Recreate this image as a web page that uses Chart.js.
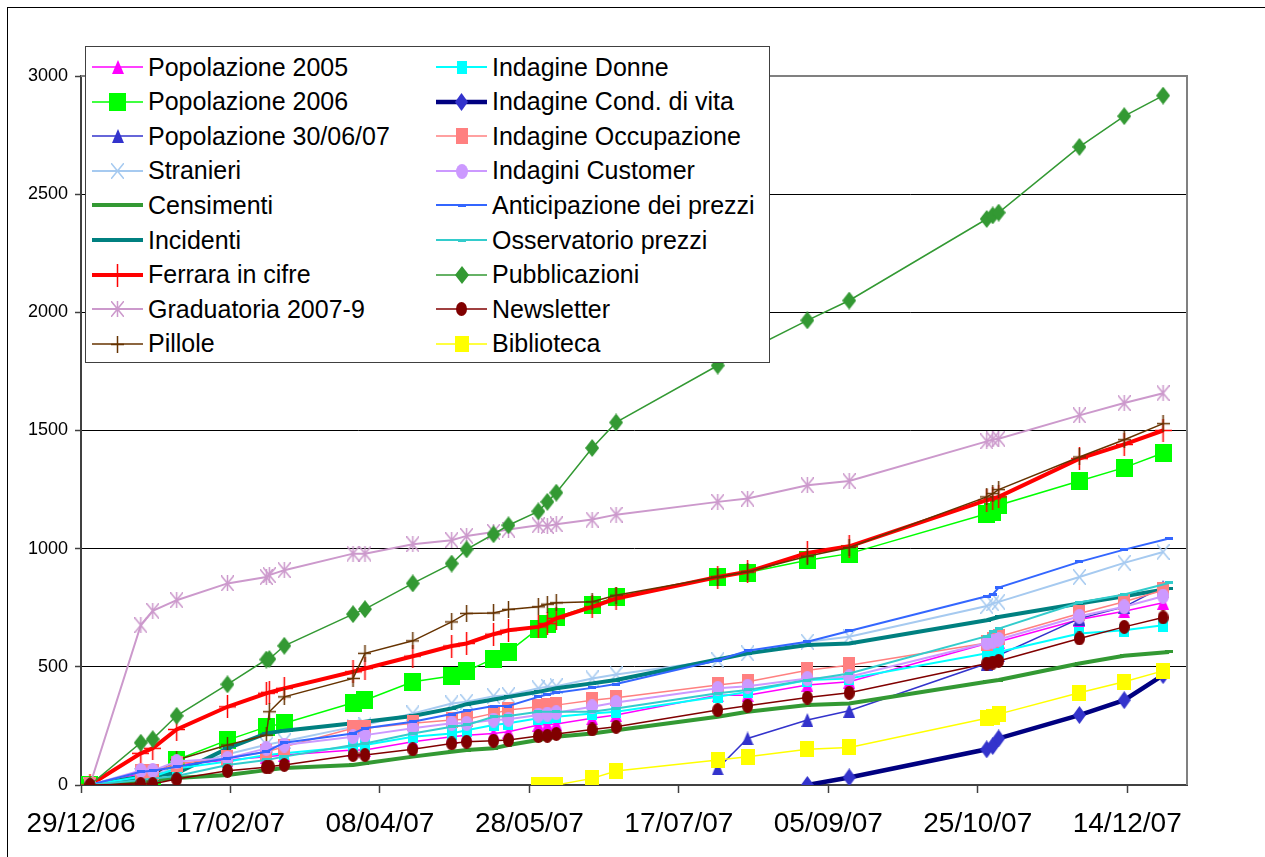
<!DOCTYPE html>
<html>
<head>
<meta charset="utf-8">
<script src="https://cdn.jsdelivr.net/npm/chart.js@4.4.1/dist/chart.umd.min.js"></script>
<style>
html, body { margin: 0; padding: 0; background: #fff; }
#wrap { position: relative; width: 1265px; height: 857px; overflow: hidden; font-family: "Liberation Sans", Arial, sans-serif; }
#frame { position: absolute; left: 7px; top: 7px; width: 1300px; height: 900px; border-top: 1.5px solid #000; border-left: 1.5px solid #000; }
#chart { position: absolute; left: 0; top: 0; }
#legend { position: absolute; left: 85px; top: 46px; width: 683px; height: 315px; border: 1.5px solid #404040; background: #fff; }
.item { position: absolute; height: 34px; display: flex; align-items: center; font-size: 25px; color: #000; white-space: nowrap; }
.item canvas { display: block; }
.item span { position: absolute; }
</style>
</head>
<body>
<div id="wrap">
  <div id="frame"></div>
  <canvas id="chart" width="1265" height="857"></canvas>
  <div id="legend"></div>
</div>
<script>
const N = null;

// recording dates (dd/mm/yy)
const dates = ['01/01/07','18/01/07','22/01/07','30/01/07','16/02/07','01/03/07','02/03/07','07/03/07',
  '30/03/07','03/04/07','19/04/07','02/05/07','07/05/07','16/05/07','21/05/07','31/05/07','03/06/07',
  '06/06/07','18/06/07','26/06/07','30/07/07','09/08/07','29/08/07','12/09/07','28/10/07','30/10/07',
  '01/11/07','28/11/07','13/12/07','26/12/07','28/12/07'];

const popolazione2005 = [0,49,49,85,106,120,N,127,148,148,183,204,211,218,225,254,256,258,282,296,380,380,423,437,599,603,606,700,735,771,N];
const popolazione2006 = [0,0,0,106,190,246,N,261,348,359,437,461,482,535,563,662,681,709,761,796,880,899,951,979,1148,1155,1184,1286,1343,1405,N];
const popolazione300607 = Array(20).fill(N).concat([70,197,275,314,514,535,549,704,754,838,N]);
const stranieri = [0,40,48,70,130,170,N,185,246,254,303,345,352,376,380,409,416,418,451,468,528,557,606,627,757,768,775,880,940,986,N];
const censimenti = [0,14,N,30,42,63,N,72,85,92,120,141,148,155,169,190,N,204,218,232,289,310,338,345,437,N,444,514,547,N,563];
const incidenti = [0,35,N,50,155,218,N,230,261,268,292,324,342,362,373,394,N,409,430,444,531,557,592,599,697,N,711,768,799,N,831];
const ferrara = [0,134,155,235,331,388,392,409,479,493,545,588,599,638,655,669,683,705,754,789,880,902,982,1010,1205,1212,1219,1381,1441,1500,N];
const graduatoria = [0,676,737,782,853,880,888,909,979,979,1019,1036,1054,1071,1081,1099,1096,1103,1123,1144,1198,1212,1268,1286,1454,1462,1465,1564,1616,1658,N];
const pillole = [0,8,40,106,169,211,310,373,451,557,610,690,726,728,743,754,765,771,775,803,880,902,968,1005,1219,1233,1250,1388,1461,1529,N];
const indagineDonne = [0,35,35,70,99,127,N,134,162,169,204,218,232,254,261,282,285,289,303,310,373,394,444,451,557,549,563,641,655,676,N];
const condVita = Array(22).fill(N).concat([0,32,151,165,197,296,359,465,N]);
const occupazione = [0,56,56,90,113,141,N,162,240,240,261,275,278,303,317,331,335,338,359,369,423,437,486,507,601,613,627,726,775,824,N];
const customer = [0,61,61,99,113,155,N,169,204,211,240,261,261,275,278,296,300,306,331,349,409,418,451,458,601,608,616,714,754,799,N];
const anticipazione = [0,56,60,77,113,141,N,179,218,240,268,300,314,334,334,373,383,390,411,427,528,568,606,652,799,806,835,944,996,N,1043];
const osservatorio = [0,21,N,38,85,106,N,120,169,176,218,246,254,289,292,310,N,310,310,324,388,402,444,472,630,648,662,772,806,N,855];
const pubblicazioni = [0,179,194,293,426,531,533,589,723,744,853,937,997,1061,1099,1158,1198,1237,1426,1534,1775,N,1966,2050,2395,2410,2422,2700,2830,2917,N];
const newsletter = [0,4,4,25,60,75,78,85,127,127,151,176,183,187,190,207,208,216,235,246,317,335,370,390,514,518,525,620,669,709,N];
const biblioteca = Array(15).fill(N).concat([0,0,0,28,59,106,120,151,159,282,289,300,390,437,483,N]);

const yTicks = [0, 500, 1000, 1500, 2000, 2500, 3000];

// day 0 of the axis = 29/12/06
const base = Date.UTC(2006, 11, 29);
const pad = n => String(n).padStart(2, '0');
function dayOf(s) {
  const [dd, mm, yy] = s.split('/').map(Number);
  return Math.round((Date.UTC(2000 + yy, mm - 1, dd) - base) / 864e5);
}
function fmt(d) {
  const t = new Date(base + d * 864e5);
  return pad(t.getUTCDate()) + '/' + pad(t.getUTCMonth() + 1) + '/' + String(t.getUTCFullYear()).slice(2);
}

// marker images (Excel style, slightly taller than wide)
function mk(w, h, draw) {
  const c = document.createElement('canvas');
  c.width = w; c.height = h;
  draw(c.getContext('2d'), w, h);
  return c;
}
const tri = (col, w, h) => mk(w, h, g => { g.fillStyle = col; g.beginPath(); g.moveTo(w / 2, 0); g.lineTo(w, h); g.lineTo(0, h); g.closePath(); g.fill(); });
const sq = (col, w, h) => mk(w, h, g => { g.fillStyle = col; g.fillRect(0, 0, w, h); });
const dia = (col, w, h) => mk(w, h, g => { g.fillStyle = col; g.beginPath(); g.moveTo(w / 2, 0); g.lineTo(w, h / 2); g.lineTo(w / 2, h); g.lineTo(0, h / 2); g.closePath(); g.fill(); });
const circ = (col, w, h) => mk(w, h, g => { g.fillStyle = col; g.beginPath(); g.ellipse(w / 2, h / 2, w / 2, h / 2, 0, 0, Math.PI * 2); g.fill(); });
const plus = (col, w, h, lw) => mk(w, h, g => { g.strokeStyle = col; g.lineWidth = lw; g.beginPath(); g.moveTo(w / 2, 0); g.lineTo(w / 2, h); g.moveTo(0, h / 2); g.lineTo(w, h / 2); g.stroke(); });
const ex = (col, w, h, lw) => mk(w, h, g => { g.strokeStyle = col; g.lineWidth = lw; g.beginPath(); g.moveTo(0, 0); g.lineTo(w, h); g.moveTo(w, 0); g.lineTo(0, h); g.stroke(); });
const star = (col, w, h, lw) => mk(w, h, g => { g.strokeStyle = col; g.lineWidth = lw; g.beginPath(); g.moveTo(0, 0); g.lineTo(w, h); g.moveTo(w, 0); g.lineTo(0, h); g.moveTo(w / 2, 0); g.lineTo(w / 2, h); g.stroke(); });
const dash = (col, w, h) => mk(w, h, g => { g.fillStyle = col; g.fillRect(0, 0, w, h); });

const series = [
  { name: 'Popolazione 2005', data: popolazione2005, color: '#FF00FF', width: 1.5, marker: tri('#FF00FF', 12, 14) },
  { name: 'Popolazione 2006', data: popolazione2006, color: '#00FF00', width: 1.5, marker: sq('#00FF00', 17, 18) },
  { name: 'Popolazione 30/06/07', data: popolazione300607, color: '#3333CC', width: 1.5, marker: tri('#3333CC', 12, 14) },
  { name: 'Stranieri', data: stranieri, color: '#A6CAF0', width: 2, marker: ex('#A6CAF0', 13, 16, 1.5) },
  { name: 'Censimenti', data: censimenti, color: '#339933', width: 4, marker: dash('#339933', 8, 3) },
  { name: 'Incidenti', data: incidenti, color: '#008080', width: 4, marker: dash('#008080', 8, 3) },
  { name: 'Ferrara in cifre', data: ferrara, color: '#FF0000', width: 4, marker: plus('#FF0000', 17, 23, 1.5) },
  { name: 'Graduatoria 2007-9', data: graduatoria, color: '#CC99CC', width: 2, marker: star('#CC99CC', 13, 16, 1.5) },
  { name: 'Pillole', data: pillole, color: '#663300', width: 1.5, marker: plus('#663300', 13, 17, 1.5) },
  { name: 'Indagine Donne', data: indagineDonne, color: '#00FFFF', width: 2, marker: sq('#00FFFF', 10, 13) },
  { name: 'Indagine Cond. di vita', data: condVita, color: '#000080', width: 4.5, marker: dia('#3333CC', 13, 18) },
  { name: 'Indagine Occupazione', data: occupazione, color: '#FF8080', width: 1.5, marker: sq('#FF8080', 12, 16) },
  { name: 'Indagini Customer', data: customer, color: '#CC99FF', width: 2, marker: circ('#CC99FF', 12, 15) },
  { name: 'Anticipazione dei prezzi', data: anticipazione, color: '#3366FF', width: 2, marker: dash('#3366FF', 8, 3) },
  { name: 'Osservatorio prezzi', data: osservatorio, color: '#33CCCC', width: 2, marker: dash('#33CCCC', 8, 3) },
  { name: 'Pubblicazioni', data: pubblicazioni, color: '#339933', width: 1.5, marker: dia('#339933', 14, 18) },
  { name: 'Newsletter', data: newsletter, color: '#800000', width: 1.5, marker: circ('#800000', 11, 14) },
  { name: 'Biblioteca', data: biblioteca, color: '#FFFF00', width: 1.5, marker: sq('#FFFF00', 14, 16) }
];

const days = dates.map(dayOf);

const datasets = series.map((s, i) => ({
  label: s.name,
  data: days.map((d, k) => ({ x: d, y: s.data[k] })),
  borderColor: s.color,
  backgroundColor: s.color,
  borderWidth: s.width,
  pointStyle: s.marker,
  pointRadius: 5,
  pointHoverRadius: 5,
  tension: 0,
  spanGaps: true,
  order: series.length - 1 - i
}));

// grey frame on top and right of the plot area
const plotFrame = {
  id: 'plotFrame',
  beforeDatasetsDraw(chart) {
    const { ctx, chartArea: a } = chart;
    ctx.save();
    ctx.strokeStyle = '#808080';
    ctx.lineWidth = 2;
    ctx.beginPath();
    ctx.moveTo(a.left, a.top);
    ctx.lineTo(a.right, a.top);
    ctx.lineTo(a.right, a.bottom);
    ctx.stroke();
    ctx.restore();
  }
};

Chart.defaults.font.family = '"Liberation Sans", Arial, sans-serif';
Chart.defaults.color = '#000';

new Chart(document.getElementById('chart'), {
  type: 'line',
  data: { datasets },
  options: {
    responsive: false,
    animation: false,
    devicePixelRatio: 1,
    layout: { padding: { top: 76, right: 78, left: 0, bottom: 0 } },
    plugins: { legend: { display: false }, tooltip: { enabled: false } },
    scales: {
      x: {
        type: 'linear',
        min: 0,
        max: 370,
        afterFit(scale) { scale.height = 72; },
        ticks: {
          stepSize: 50,
          includeBounds: false,
          autoSkip: false,
          maxRotation: 0,
          padding: 14,
          font: { size: 28 },
          callback: v => fmt(v)
        },
        grid: { drawOnChartArea: false, drawTicks: true, tickLength: 8, tickColor: '#404040', tickWidth: 1.5 },
        border: { color: '#404040', width: 2 }
      },
      y: {
        min: 0,
        max: 3000,
        afterFit(scale) { scale.width = 81; },
        afterBuildTicks(scale) { scale.ticks = yTicks.map(v => ({ value: v })); },
        ticks: { padding: 7, font: { size: 18 }, callback: v => String(v) },
        grid: {
          color: c => c.tick.value === 3000 ? '#808080' : (c.tick.value === 0 ? 'rgba(0,0,0,0)' : '#000'),
          lineWidth: 1,
          tickLength: 6,
          tickColor: '#404040',
          tickWidth: 1.5
        },
        border: { color: '#404040', width: 2 }
      }
    }
  },
  plugins: [plotFrame]
});

// legend box, two columns filled top to bottom
const legend = document.getElementById('legend');
series.forEach((s, i) => {
  const col = Math.floor(i / 9), row = i % 9;
  const item = document.createElement('div');
  item.className = 'item';
  item.style.left = (col === 0 ? 6 : 350) + 'px';
  item.style.top = (3 + row * 34.6) + 'px';
  const sw = document.createElement('canvas');
  sw.width = 51; sw.height = 34;
  const g = sw.getContext('2d');
  g.strokeStyle = s.color;
  g.lineWidth = s.width;
  g.beginPath(); g.moveTo(0, 17); g.lineTo(51, 17); g.stroke();
  g.drawImage(s.marker, Math.round(25.5 - s.marker.width / 2), Math.round(17 - s.marker.height / 2));
  item.appendChild(sw);
  const t = document.createElement('span');
  t.textContent = s.name;
  t.style.left = '56px';
  item.appendChild(t);
  legend.appendChild(item);
});
</script>
</body>
</html>
